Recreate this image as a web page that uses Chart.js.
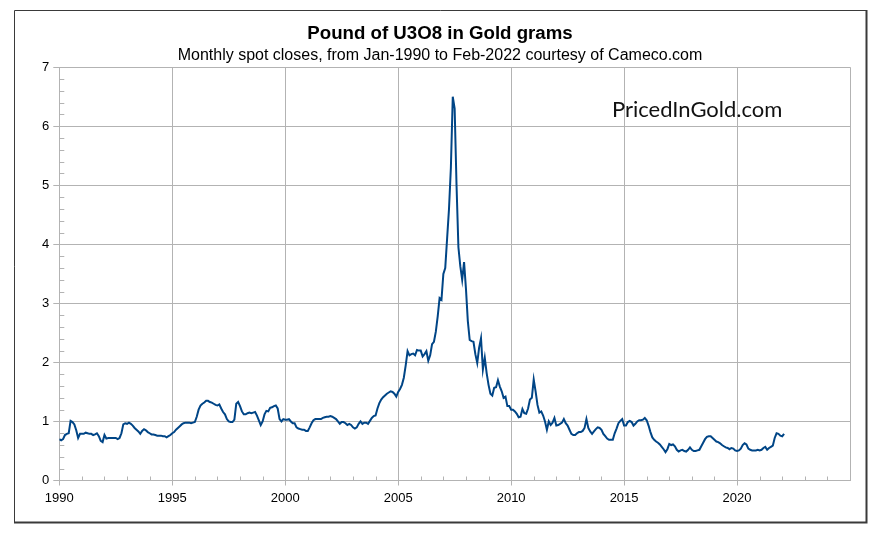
<!DOCTYPE html>
<html>
<head>
<meta charset="utf-8">
<script src="https://cdn.jsdelivr.net/npm/chart.js@4/dist/chart.umd.min.js"></script>
<style>
  body { margin: 0; background: #fff; }
  canvas { display: block; }
</style>
</head>
<body>
<canvas id="u3o8Chart" width="889" height="535"></canvas>
<script>
// monthly spot closes, grams of gold per lb U3O8
var closes1990s = [
  0.70, 0.68, 0.70, 0.77, 0.79, 0.80, 1.01, 0.99, 0.95, 0.85, 0.72, 0.79,
  0.79, 0.79, 0.81, 0.80, 0.79, 0.79, 0.77, 0.78, 0.80, 0.75, 0.67, 0.65,
  0.77, 0.71, 0.72, 0.72, 0.72, 0.72, 0.72, 0.70, 0.72, 0.80, 0.95, 0.97,
  0.96, 0.98, 0.96, 0.93, 0.89, 0.86, 0.83, 0.79, 0.84, 0.87, 0.85, 0.82,
  0.80, 0.78, 0.78, 0.77, 0.76, 0.76, 0.76, 0.75, 0.75, 0.73, 0.75, 0.77,
  0.80, 0.82, 0.86, 0.89, 0.92, 0.95, 0.97, 0.98, 0.98, 0.98, 0.97, 0.98,
  0.99, 1.08, 1.20, 1.27, 1.30, 1.32, 1.35, 1.35, 1.33, 1.32, 1.30, 1.28,
  1.27, 1.29, 1.22, 1.16, 1.12, 1.04, 1.00, 0.99, 0.99, 1.03, 1.30, 1.33,
  1.26, 1.17, 1.12, 1.12, 1.14, 1.15, 1.14, 1.15, 1.16, 1.10, 1.02, 0.94,
  1.00, 1.12, 1.18, 1.17, 1.23, 1.24, 1.26, 1.27, 1.22, 1.04, 1.00, 1.04
];
var closes2000s = [
  1.03, 1.03, 1.04, 1.00, 0.97, 0.97, 0.90, 0.88, 0.87, 0.86, 0.86, 0.84,
  0.84, 0.90, 0.97, 1.02, 1.04, 1.04, 1.04, 1.04, 1.06, 1.07, 1.08, 1.08,
  1.09, 1.08, 1.06, 1.04, 1.00, 0.96, 0.99, 0.99, 0.97, 0.94, 0.96, 0.94,
  0.90, 0.88, 0.90, 0.96, 1.00, 0.96, 0.98, 0.98, 0.96, 1.01, 1.06, 1.09,
  1.10, 1.22, 1.31, 1.37, 1.41, 1.44, 1.47, 1.49, 1.51, 1.50, 1.47, 1.42,
  1.50, 1.55, 1.62, 1.74, 1.95, 2.19, 2.12, 2.14, 2.15, 2.12, 2.21, 2.20,
  2.20, 2.10, 2.14, 2.19, 2.03, 2.12, 2.31, 2.35, 2.52, 2.78, 3.09, 3.06,
  3.50, 3.60, 4.10, 4.60, 5.30, 6.50, 6.30, 5.00, 3.95, 3.63, 3.40, 3.70,
  3.25, 2.70, 2.38, 2.36, 2.35, 2.14, 1.99, 2.25, 2.41, 1.88, 2.08, 1.82,
  1.62, 1.47, 1.44, 1.57, 1.58, 1.70, 1.59, 1.51, 1.40, 1.42, 1.26, 1.26
];
var closes2010s = [
  1.20, 1.20, 1.17, 1.13, 1.07, 1.08, 1.21, 1.14, 1.13, 1.22, 1.37, 1.40,
  1.71, 1.51, 1.28, 1.15, 1.17, 1.10, 1.00, 0.86, 1.00, 0.94, 0.98, 1.06,
  0.93, 0.94, 0.96, 0.98, 1.04, 0.97, 0.93, 0.86, 0.79, 0.77, 0.77, 0.80,
  0.82, 0.82, 0.84, 0.89, 1.04, 0.89, 0.83, 0.79, 0.83, 0.87, 0.90, 0.89,
  0.86, 0.79, 0.75, 0.71, 0.69, 0.69, 0.69, 0.80, 0.88, 0.97, 1.01, 1.04,
  0.93, 0.93, 0.99, 1.01, 0.99, 0.93, 0.96, 1.00, 1.02, 1.02, 1.03, 1.06,
  1.02, 0.93, 0.82, 0.73, 0.69, 0.66, 0.64, 0.61, 0.57, 0.53, 0.48, 0.53,
  0.62, 0.60, 0.61, 0.58, 0.52, 0.49, 0.51, 0.52, 0.50, 0.49, 0.52, 0.56,
  0.52, 0.50, 0.50, 0.51, 0.52, 0.58, 0.64, 0.70, 0.74, 0.75, 0.75, 0.72,
  0.69, 0.66, 0.65, 0.63, 0.60, 0.58, 0.56, 0.55, 0.53, 0.55, 0.54, 0.51
];
var closes2020s = [
  0.50, 0.51, 0.54, 0.60, 0.63, 0.61, 0.54, 0.52, 0.51, 0.51, 0.51, 0.52,
  0.51, 0.52, 0.55, 0.57, 0.52, 0.55, 0.57, 0.59, 0.72, 0.80, 0.79, 0.76,
  0.75, 0.79
];
var startYear = 1990;
var yearLabels = [1990, 1995, 2000, 2005, 2010, 2015, 2020];
var yTickLabels = [0, 1, 2, 3, 4, 5, 6, 7];

var titleText = 'Pound of U3O8 in Gold grams';
var subtitleText = 'Monthly spot closes, from Jan-1990 to Feb-2022 courtesy of Cameco.com';
var logoText = 'PricedInGold.com';

var allCloses = closes1990s.concat(closes2000s, closes2010s, closes2020s);
var points = allCloses.map(function (v, i) {
  return { x: startYear + i / 12, y: v };
});

var gridGrey = '#b3b3b3';
var fontFam = '"Liberation Sans", Arial, sans-serif';

// white page, outer frame, minor ticks and the logo text
var decorPlugin = {
  id: 'decor',
  beforeDraw: function (chart) {
    var ctx = chart.ctx;
    ctx.save();
    ctx.fillStyle = '#fff';
    ctx.fillRect(0, 0, chart.width, chart.height);
    ctx.restore();
  },
  beforeDatasetsDraw: function (chart) {
    var ctx = chart.ctx, xs = chart.scales.x, ys = chart.scales.y;
    var a = chart.chartArea;
    ctx.save();
    ctx.strokeStyle = gridGrey;
    ctx.lineWidth = 1;
    ctx.beginPath();
    for (var yr = 1990; yr <= 2025; yr++) {
      if (yr % 5 === 0) continue;
      var px = Math.round(xs.getPixelForValue(yr)) + 0.5;
      ctx.moveTo(px, a.bottom);
      ctx.lineTo(px, a.bottom - 4);
    }
    for (var k = 1; k < 35; k++) {
      if (k % 5 === 0) continue;
      var py = Math.round(ys.getPixelForValue(k / 5)) + 0.5;
      ctx.moveTo(a.left, py);
      ctx.lineTo(a.left + 5, py);
    }
    ctx.stroke();
    ctx.restore();
  },
  afterDraw: function (chart) {
    var ctx = chart.ctx;
    ctx.save();
    // frame
    ctx.strokeStyle = '#3a3a3a';
    ctx.lineWidth = 1;
    ctx.beginPath();
    ctx.moveTo(14.5, 522);
    ctx.lineTo(14.5, 10.5);
    ctx.lineTo(866, 10.5);
    ctx.stroke();
    ctx.lineWidth = 2;
    ctx.beginPath();
    ctx.moveTo(866.5, 10);
    ctx.lineTo(866.5, 522.5);
    ctx.lineTo(14, 522.5);
    ctx.stroke();
    // logo
    ctx.fillStyle = '#111';
    ctx.font = '22px Lato, "Open Sans", sans-serif';
    ctx.textBaseline = 'alphabetic';
    ctx.fillText(logoText, 612, 117);
    ctx.restore();
  }
};

var ctx = document.getElementById('u3o8Chart');
var u3o8Chart = new Chart(ctx, {
  type: 'line',
  data: {
    datasets: [{
      data: points,
      borderColor: '#004586',
      borderWidth: 2,
      pointRadius: 0,
      tension: 0,
      fill: false
    }]
  },
  options: {
    responsive: false,
    animation: false,
    events: [],
    layout: { padding: { left: 30, right: 39, top: 0, bottom: 0 } },
    plugins: {
      legend: { display: false },
      tooltip: { enabled: false },
      title: {
        display: true,
        text: titleText,
        color: '#000',
        font: { family: fontFam, size: 18.67, weight: 'bold' },
        padding: { top: 23, bottom: 0.2 }
      },
      subtitle: {
        display: true,
        text: subtitleText,
        color: '#000',
        font: { family: fontFam, size: 16, weight: 'normal' },
        padding: { top: 0, bottom: 2.4 }
      }
    },
    scales: {
      x: {
        type: 'linear',
        min: 1990,
        max: 2025,
        afterFit: function (s) { s.height = 54.5; },
        afterBuildTicks: function (s) {
          var t = yearLabels.map(function (v) { return { value: v }; });
          t.push({ value: 2025 });
          s.ticks = t;
        },
        grid: {
          color: gridGrey,
          tickLength: 5,
          tickColor: function (c) {
            return c.tick && c.tick.value === 2025 ? 'rgba(0,0,0,0)' : gridGrey;
          }
        },
        border: { color: gridGrey },
        ticks: {
          padding: 5,
          color: '#000',
          maxRotation: 0,
          font: { family: fontFam, size: 13 },
          callback: function (v) { return yearLabels.indexOf(v) >= 0 ? String(v) : ''; }
        }
      },
      y: {
        min: 0,
        max: 7,
        afterFit: function (s) { s.width = 29.3; },
        afterBuildTicks: function (s) {
          s.ticks = yTickLabels.map(function (v) { return { value: v }; });
        },
        grid: { color: gridGrey, tickLength: 6 },
        border: { color: gridGrey },
        ticks: {
          padding: 4,
          color: '#000',
          font: { family: fontFam, size: 13 }
        }
      }
    }
  },
  plugins: [decorPlugin]
});
</script>
</body>
</html>
